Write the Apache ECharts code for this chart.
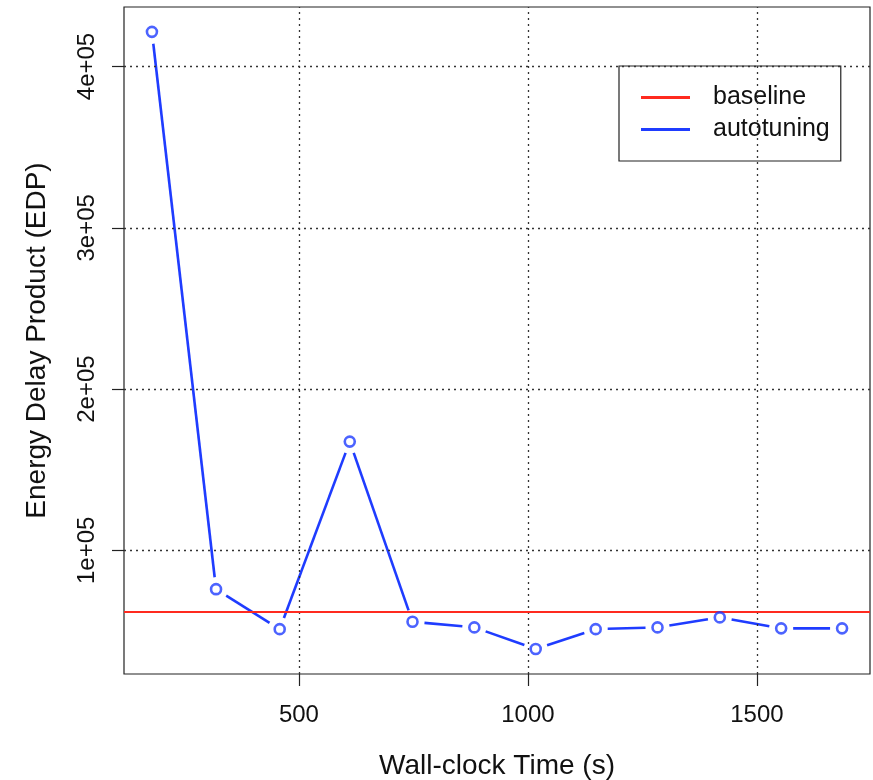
<!DOCTYPE html>
<html>
<head>
<meta charset="utf-8">
<script src="https://cdn.jsdelivr.net/npm/echarts@6/dist/echarts.min.js"></script>
<style>html,body{margin:0;padding:0;background:#fff;}#c{width:873px;height:780px;}</style>
</head>
<body>
<div id="c"></div>
<script>
// Data
var wallTime = [179, 319, 458, 611, 748, 883, 1017, 1148, 1283, 1419, 1553, 1686];
var edp = [421500, 75900, 51100, 167400, 55700, 52200, 38800, 51100, 52200, 58400, 51600, 51600];
var baselineEdp = 61800;
var xTicks = [500, 1000, 1500];
var xTickLabels = ['500', '1000', '1500'];
var yTicks = [100000, 200000, 300000, 400000];
var yTickLabels = ['1e+05', '2e+05', '3e+05', '4e+05'];

var BLUE = '#1f3cff';
var RED = '#ff2a1f';
var FONT = 'Liberation Sans';

var segments = [];
for (var i = 0; i < wallTime.length - 1; i++) {
  segments.push([wallTime[i], edp[i], wallTime[i + 1], edp[i + 1]]);
}
var points = wallTime.map(function (x, i) { return [x, edp[i]]; });

var gridLines = xTicks.map(function (v) { return { xAxis: v }; })
  .concat(yTicks.map(function (v) { return { yAxis: v }; }));

var chart = echarts.init(document.getElementById('c'));
chart.setOption({
  animation: false,
  backgroundColor: '#fff',
  textStyle: { fontFamily: FONT },
  grid: {
    left: 124, top: 7, right: 3, bottom: 106, show: true, containLabel: false, outerBoundsMode: 'none',
    borderColor: '#222', borderWidth: 1.2, backgroundColor: 'transparent'
  },
  legend: {
    orient: 'vertical',
    left: 619, top: 66,
    padding: [19, 11, 19, 22],
    borderColor: '#222', borderWidth: 1.2,
    itemWidth: 49, itemHeight: 3, itemGap: 7,
    textStyle: { fontFamily: FONT, fontSize: 25, color: '#111', lineHeight: 24, padding: [0, 0, 0, 18] },
    data: [
      { name: 'baseline', icon: 'rect', itemStyle: { color: RED, borderWidth: 0 } },
      { name: 'autotuning', icon: 'rect', itemStyle: { color: BLUE, borderWidth: 0 } }
    ]
  },
  xAxis: {
    type: 'value', min: 118, max: 1747,
    name: 'Wall-clock Time (s)', nameLocation: 'middle', nameGap: 78,
    nameTextStyle: { fontFamily: FONT, fontSize: 28, color: '#111' },
    axisLine: { show: false },
    axisTick: { show: true, length: 12, lineStyle: { color: '#222', width: 1.2 }, customValues: xTicks },
    axisLabel: {
      show: true, fontFamily: FONT, fontSize: 24, color: '#111', margin: 29, customValues: xTicks,
      formatter: function (v) { var k = xTicks.indexOf(v); return k >= 0 ? xTickLabels[k] : ''; }
    },
    splitLine: { show: false }
  },
  yAxis: {
    type: 'value', min: 23300, max: 436900,
    name: 'Energy Delay Product (EDP)', nameLocation: 'middle', nameGap: 73,
    nameTextStyle: { fontFamily: FONT, fontSize: 28, color: '#111' },
    axisLine: { show: false },
    axisTick: { show: true, length: 12, lineStyle: { color: '#222', width: 1.2 }, customValues: yTicks },
    axisLabel: {
      show: true, fontFamily: FONT, fontSize: 24, color: '#111', margin: 25, rotate: 90,
      align: 'center', verticalAlign: 'bottom', customValues: yTicks,
      formatter: function (v) { var k = yTicks.indexOf(v); return k >= 0 ? yTickLabels[k] : ''; }
    },
    splitLine: { show: false }
  },
  series: [
    {
      name: 'grid', type: 'line', data: [], silent: true,
      markLine: {
        silent: true, symbol: ['none', 'none'], label: { show: false },
        lineStyle: { color: '#333', width: 1.3, type: [2, 4] },
        data: gridLines
      }
    },
    {
      name: 'baseline', type: 'line', data: [], silent: true, z: 4,
      itemStyle: { color: RED },
      markLine: {
        silent: true, symbol: ['none', 'none'], label: { show: false },
        lineStyle: { color: RED, width: 2, type: 'solid' },
        data: [{ yAxis: baselineEdp }]
      }
    },
    {
      name: 'autotuning', type: 'custom', data: segments, z: 3,
      encode: { x: [0, 2], y: [1, 3] },
      renderItem: function (params, api) {
        var p1 = api.coord([api.value(0), api.value(1)]);
        var p2 = api.coord([api.value(2), api.value(3)]);
        var dx = p2[0] - p1[0], dy = p2[1] - p1[1];
        var len = Math.sqrt(dx * dx + dy * dy);
        var gap = 12;
        if (len <= 2 * gap) return null;
        var ux = dx / len, uy = dy / len;
        return {
          type: 'line',
          shape: { x1: p1[0] + ux * gap, y1: p1[1] + uy * gap, x2: p2[0] - ux * gap, y2: p2[1] - uy * gap },
          style: { stroke: BLUE, lineWidth: 2.6, lineCap: 'butt' }
        };
      }
    },
    {
      name: 'autotuning', type: 'scatter', data: points, z: 5,
      symbol: 'circle', symbolSize: 10,
      itemStyle: { color: 'rgba(255,255,255,0)', borderColor: BLUE, borderWidth: 2.6 }
    }
  ]
});
</script>
</body>
</html>
